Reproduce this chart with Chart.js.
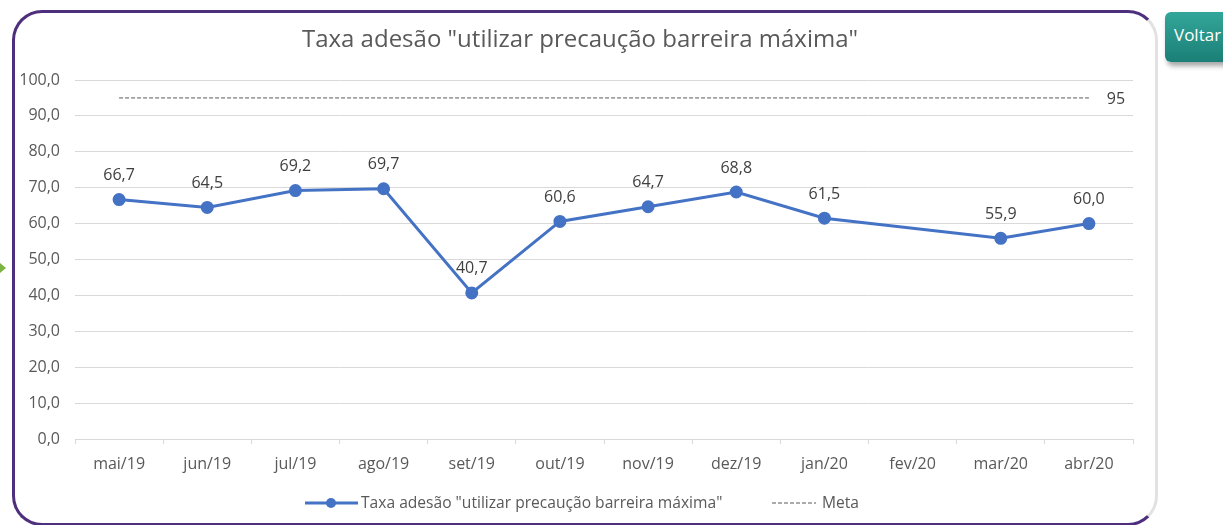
<!DOCTYPE html>
<html>
<head>
<meta charset="utf-8">
<script src="https://cdn.jsdelivr.net/npm/chart.js@4.4.0/dist/chart.umd.min.js"></script>
<style>
  html, body { margin: 0; padding: 0; background: #fff; }
  body { width: 1223px; height: 525px; position: relative; overflow: hidden; font-family: "Open Sans", sans-serif; }
  .frame {
    position: absolute; left: 12px; top: 10px; width: 1140px; height: 510px;
    border: 3px solid #4e2f7e; border-right-color: #e2e2e2; border-radius: 30px;
  }
  .arrow {
    position: absolute; left: 0; top: 263px; width: 0; height: 0;
    border-top: 5px solid transparent; border-bottom: 5px solid transparent; border-left: 6px solid #7cb342;
  }
  .voltar {
    position: absolute; left: 1165px; top: 12px; width: 80px; height: 50px;
    border-radius: 6px; background: linear-gradient(#33a69a, #1b7f76);
    box-shadow: 2px 4px 5px rgba(0,0,0,0.35);
    color: #fff; font-size: 17px; line-height: 46px; padding-left: 9px; box-sizing: border-box;
  }
  canvas { position: absolute; left: 0; top: 0; }
</style>
</head>
<body>
<div class="frame"></div>
<div class="arrow"></div>
<div class="voltar">Voltar</div>
<canvas id="chart" width="1223" height="525"></canvas>
<script>
const chartTitle = 'Taxa adesão "utilizar precaução barreira máxima"';
const months = ['mai/19', 'jun/19', 'jul/19', 'ago/19', 'set/19', 'out/19', 'nov/19', 'dez/19', 'jan/20', 'fev/20', 'mar/20', 'abr/20'];
const adesao = [66.7, 64.5, 69.2, 69.7, 40.7, 60.6, 64.7, 68.8, 61.5, null, 55.9, 60.0];
const meta = 95;
const metaLine = months.map(() => meta);

const fmt = v => v.toFixed(1).replace('.', ',');
const textColor = '#595959';
const fontFamily = '"Open Sans", sans-serif';

// title, value labels, meta label and legend drawn on top
const extras = {
  id: 'extras',
  afterDatasetsDraw(chart) {
    const ctx = chart.ctx;
    ctx.save();
    ctx.fillStyle = textColor;
    ctx.font = '24px ' + fontFamily;
    ctx.textAlign = 'center';
    ctx.textBaseline = 'middle';
    ctx.fillText(chartTitle, 580, 40);

    ctx.font = '16px ' + fontFamily;
    ctx.fillStyle = '#404040';
    chart.getDatasetMeta(0).data.forEach((pt, i) => {
      if (adesao[i] == null) return;
      ctx.fillText(fmt(adesao[i]), pt.x, pt.y - 24);
    });

    const last = chart.getDatasetMeta(1).data[months.length - 1];
    ctx.fillText(String(meta), last.x + 27, last.y + 1);

    // legend
    const ly = 503;
    ctx.font = '15.6px ' + fontFamily;
    ctx.textAlign = 'left';
    ctx.strokeStyle = '#4472c4';
    ctx.lineWidth = 3;
    ctx.beginPath(); ctx.moveTo(305, ly); ctx.lineTo(358, ly); ctx.stroke();
    ctx.fillStyle = '#4472c4';
    ctx.beginPath(); ctx.arc(331, ly, 5, 0, Math.PI * 2); ctx.fill();
    ctx.fillStyle = textColor;
    ctx.fillText(chartTitle, 361, ly + 1);
    ctx.strokeStyle = '#595959';
    ctx.lineWidth = 1;
    ctx.setLineDash([4, 2]);
    ctx.beginPath(); ctx.moveTo(772, ly); ctx.lineTo(816, ly); ctx.stroke();
    ctx.setLineDash([]);
    ctx.fillText('Meta', 822, ly + 1);
    ctx.restore();
  }
};

new Chart(document.getElementById('chart'), {
  type: 'line',
  data: {
    labels: months,
    datasets: [
      {
        label: chartTitle,
        data: adesao,
        borderColor: '#4472c4',
        backgroundColor: '#4472c4',
        borderWidth: 3,
        pointRadius: 5,
        pointHoverRadius: 5,
        spanGaps: true,
        tension: 0
      },
      {
        label: 'Meta',
        data: metaLine,
        borderColor: '#595959',
        borderWidth: 1,
        borderDash: [4, 2],
        pointRadius: 0,
        fill: false
      }
    ]
  },
  options: {
    responsive: false,
    animation: false,
    layout: { padding: { left: 15, right: 90, top: 80, bottom: 46 } },
    plugins: { legend: { display: false }, title: { display: false }, tooltip: { enabled: false } },
    scales: {
      x: {
        offset: true,
        afterFit: s => { s.height = 40; },
        grid: { offset: true, drawOnChartArea: false, drawTicks: true, tickLength: 5, color: '#d9d9d9' },
        border: { color: '#d9d9d9' },
        ticks: { color: textColor, font: { size: 16, family: fontFamily }, padding: 11, maxRotation: 0 }
      },
      y: {
        min: 0,
        max: 100,
        afterFit: s => { s.width = 60; },
        grid: { color: '#d9d9d9', drawTicks: false },
        border: { display: false },
        ticks: { stepSize: 10, color: textColor, font: { size: 16, family: fontFamily }, padding: 15, callback: v => fmt(v) }
      }
    }
  },
  plugins: [extras]
});
</script>
</body>
</html>
